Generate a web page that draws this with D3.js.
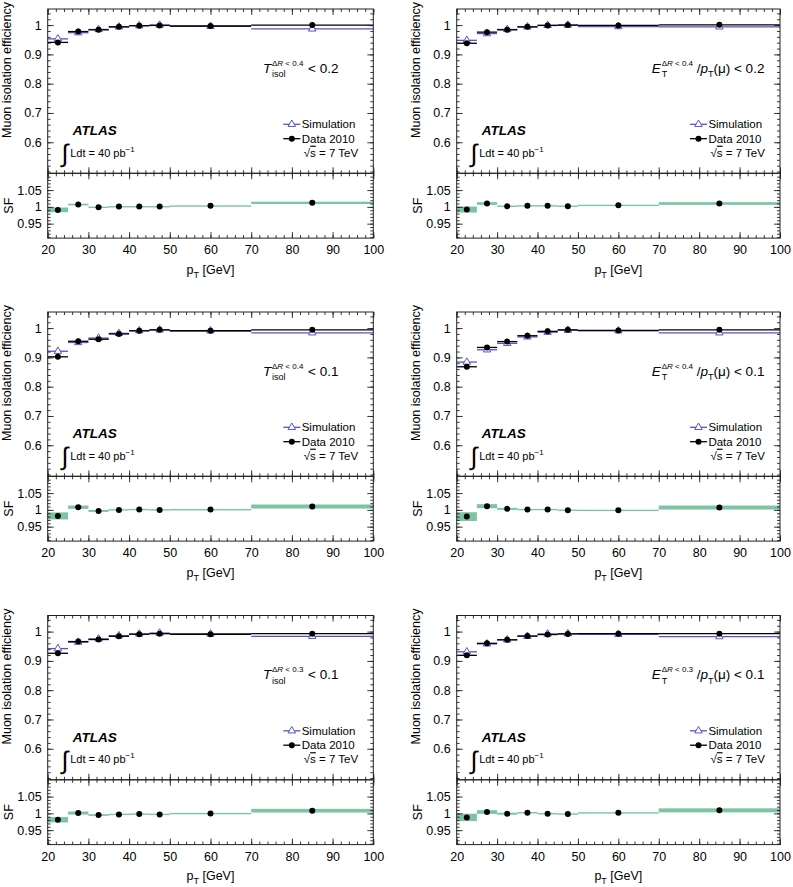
<!DOCTYPE html>
<html>
<head>
<meta charset="utf-8">
<script src="https://cdn.jsdelivr.net/npm/d3@7"></script>
<style>
body { margin: 0; background: #fff; }
svg { display: block; }
</style>
</head>
<body>
<script>
// pT bins (GeV)
var binLow = [20, 25, 30, 35, 40, 45, 50, 70];
var binHigh = [25, 30, 35, 40, 45, 50, 70, 100];
var binCenter = [22.5, 27.5, 32.5, 37.5, 42.5, 47.5, 60, 85];

// T_isol dR<0.4 < 0.2
var effData_a = [0.941, 0.978, 0.984, 0.994, 0.998, 0.999, 0.997, 1.000];
var effSim_a  = [0.953, 0.974, 0.985, 0.994, 0.998, 1.000, 0.996, 0.987];
var sf_a      = [0.991, 1.007, 0.999, 1.001, 1.001, 1.001, 1.003, 1.012];
var sfErr_a   = [0.007, 0.0025, 0.0018, 0.0015, 0.0015, 0.0015, 0.0015, 0.0035];

// E_T dR<0.4 / pT < 0.2
var effData_b = [0.938, 0.976, 0.984, 0.994, 0.999, 1.000, 0.999, 1.001];
var effSim_b  = [0.948, 0.971, 0.985, 0.994, 0.999, 1.000, 0.995, 0.994];
var sf_b      = [0.992, 1.010, 1.002, 1.003, 1.003, 1.002, 1.005, 1.010];
var sfErr_b   = [0.009, 0.004, 0.002, 0.002, 0.002, 0.002, 0.0015, 0.004];

// T_isol dR<0.4 < 0.1
var effData_c = [0.902, 0.955, 0.962, 0.980, 0.991, 0.994, 0.991, 0.994];
var effSim_c  = [0.921, 0.951, 0.966, 0.982, 0.991, 0.994, 0.991, 0.984];
var sf_c      = [0.982, 1.008, 0.997, 1.000, 1.001, 1.000, 1.001, 1.010];
var sfErr_c   = [0.0105, 0.005, 0.003, 0.002, 0.002, 0.002, 0.0015, 0.006];

// E_T dR<0.4 / pT < 0.1
var effData_d = [0.868, 0.934, 0.954, 0.974, 0.989, 0.994, 0.992, 0.994];
var effSim_d  = [0.884, 0.926, 0.948, 0.970, 0.986, 0.993, 0.991, 0.984];
var sf_d      = [0.980, 1.011, 1.003, 1.001, 1.001, 0.999, 0.999, 1.007];
var sfErr_d   = [0.013, 0.006, 0.003, 0.002, 0.002, 0.002, 0.0015, 0.006];

// T_isol dR<0.3 < 0.1
var effData_e = [0.926, 0.966, 0.973, 0.984, 0.991, 0.993, 0.991, 0.993];
var effSim_e  = [0.942, 0.964, 0.975, 0.986, 0.992, 0.995, 0.992, 0.984];
var sf_e      = [0.981, 1.001, 0.995, 0.997, 0.998, 0.997, 1.000, 1.008];
var sfErr_e   = [0.008, 0.0045, 0.0025, 0.002, 0.002, 0.002, 0.0015, 0.0055];

// E_T dR<0.3 / pT < 0.1
var effData_f = [0.919, 0.960, 0.972, 0.985, 0.990, 0.992, 0.993, 0.993];
var effSim_f  = [0.931, 0.958, 0.972, 0.984, 0.992, 0.993, 0.991, 0.983];
var sf_f      = [0.988, 1.004, 0.999, 1.002, 0.999, 0.998, 1.002, 1.009];
var sfErr_f   = [0.011, 0.0055, 0.003, 0.002, 0.002, 0.002, 0.0015, 0.006];

// axis ticks
var xMajor = [20, 30, 40, 50, 60, 70, 80, 90, 100];
var effMajor = [0.6, 0.7, 0.8, 0.9, 1];
var sfMajor = [0.95, 1, 1.05];

var FONT = '"Liberation Sans", Arial, Helvetica, sans-serif';
var SIM_COLOR = "#5555c8";
var BAND_COLOR = "#7cc4a2";

var W = 793, H = 887;
var colLeft = [47.7, 456.7], colWidth = [325.6, 323.3];
var rowTop = [9, 312, 615.5];
var upperH = 164.3, lowerH = 64.8;

var panels = [
  {col: 0, row: 0, data: effData_a, sim: effSim_a, sf: sf_a, err: sfErr_a, v: "T", cone: "0.4", cut: "0.2"},
  {col: 1, row: 0, data: effData_b, sim: effSim_b, sf: sf_b, err: sfErr_b, v: "E", cone: "0.4", cut: "0.2"},
  {col: 0, row: 1, data: effData_c, sim: effSim_c, sf: sf_c, err: sfErr_c, v: "T", cone: "0.4", cut: "0.1"},
  {col: 1, row: 1, data: effData_d, sim: effSim_d, sf: sf_d, err: sfErr_d, v: "E", cone: "0.4", cut: "0.1"},
  {col: 0, row: 2, data: effData_e, sim: effSim_e, sf: sf_e, err: sfErr_e, v: "T", cone: "0.3", cut: "0.1"},
  {col: 1, row: 2, data: effData_f, sim: effSim_f, sf: sf_f, err: sfErr_f, v: "E", cone: "0.3", cut: "0.1"}
];

var svg = d3.select("body").append("svg")
    .attr("width", W)
    .attr("height", H)
    .attr("font-family", FONT);

function range100(a, b, step) {
  // avoid float drift for tick positions
  return d3.range(a, b + step / 2, step).map(function(v) { return v / 100; });
}

function addAxis(g, axisGen, scale, majors, minors, labels, transform) {
  var gMin = g.append("g").attr("transform", transform)
      .call(axisGen(scale).tickValues(minors).tickSizeInner(-3).tickSizeOuter(0).tickFormat(""));
  var gMaj = g.append("g").attr("transform", transform)
      .call(axisGen(scale).tickValues(majors).tickSizeInner(-6).tickSizeOuter(0)
        .tickPadding(axisGen === d3.axisBottom ? 7.4 : 6)
        .tickFormat(labels ? function(d) { return String(d); } : ""));
  [gMin, gMaj].forEach(function(a) {
    a.attr("font-family", FONT).attr("font-size", 12.5);
    a.select(".domain").remove();
    a.selectAll("line").attr("stroke", "#222").attr("stroke-width", 0.9);
    a.selectAll("text").attr("fill", "#000");
  });
}

function isoLabel(g, x, y, p) {
  g.append("text").attr("x", x).attr("y", y).attr("font-size", 13.5)
      .style("font-style", "italic").text(p.v);
  var off = p.v === "T" ? 9 : 10;
  var sup = g.append("text").attr("x", x + off).attr("y", y - 7).attr("font-size", 8);
  sup.append("tspan").text("\u0394");
  sup.append("tspan").style("font-style", "italic").text("R");
  sup.append("tspan").text(" < " + p.cone);
  g.append("text").attr("x", x + off).attr("y", y + 4.5).attr("font-size", 9)
      .text(p.v === "T" ? "isol" : "T");
  var rest = g.append("text").attr("x", x + 45).attr("y", y).attr("font-size", 13.5);
  if (p.v === "E") {
    rest.append("tspan").text("/");
    rest.append("tspan").style("font-style", "italic").text("p");
    rest.append("tspan").attr("font-size", 9).attr("dy", 4.5).text("T");
    rest.append("tspan").attr("dy", -4.5).text("(\u03bc) < " + p.cut);
  } else {
    rest.text("< " + p.cut);
  }
}

panels.forEach(function(p) {
  var left = colLeft[p.col], width = colWidth[p.col];
  var top = rowTop[p.row];
  var g = svg.append("g");

  var x = d3.scaleLinear().domain([20, 100]).range([left, left + width]);
  var yEff = d3.scaleLinear().domain([0.494, 1.055]).range([top + upperH, top]);
  var lowTop = top + upperH;
  var ySf = d3.scaleLinear().domain([0.907, 1.1]).range([lowTop + lowerH, lowTop]);

  var xMinor = d3.range(20, 101, 2);

  // ---- upper pad: efficiency ----
  var bins = d3.range(binCenter.length);

  // simulation
  g.append("g").selectAll("line").data(bins).enter().append("line")
      .attr("x1", function(i) { return x(binLow[i]); })
      .attr("x2", function(i) { return x(binHigh[i]); })
      .attr("y1", function(i) { return yEff(p.sim[i]); })
      .attr("y2", function(i) { return yEff(p.sim[i]); })
      .attr("stroke", SIM_COLOR).attr("stroke-width", 1.3);
  g.append("g").selectAll("path").data(bins).enter().append("path")
      .attr("d", d3.symbol(d3.symbolTriangle, 24))
      .attr("transform", function(i) { return "translate(" + x(binCenter[i]) + "," + yEff(p.sim[i]) + ")"; })
      .attr("fill", "#fff").attr("stroke", SIM_COLOR).attr("stroke-width", 1);

  // data
  g.append("g").selectAll("line").data(bins).enter().append("line")
      .attr("x1", function(i) { return x(binLow[i]); })
      .attr("x2", function(i) { return x(binHigh[i]); })
      .attr("y1", function(i) { return yEff(p.data[i]); })
      .attr("y2", function(i) { return yEff(p.data[i]); })
      .attr("stroke", "#000").attr("stroke-width", 1.3);
  g.append("g").selectAll("circle").data(bins).enter().append("circle")
      .attr("cx", function(i) { return x(binCenter[i]); })
      .attr("cy", function(i) { return yEff(p.data[i]); })
      .attr("r", 3).attr("fill", "#000");

  // ---- lower pad: scale factor ----
  g.append("g").selectAll("rect").data(bins).enter().append("rect")
      .attr("x", function(i) { return x(binLow[i]); })
      .attr("width", function(i) { return x(binHigh[i]) - x(binLow[i]); })
      .attr("y", function(i) { return ySf(p.sf[i] + p.err[i]); })
      .attr("height", function(i) { return Math.max(1.4, ySf(p.sf[i] - p.err[i]) - ySf(p.sf[i] + p.err[i])); })
      .attr("fill", BAND_COLOR);
  g.append("g").selectAll("circle").data(bins).enter().append("circle")
      .attr("cx", function(i) { return x(binCenter[i]); })
      .attr("cy", function(i) { return ySf(p.sf[i]); })
      .attr("r", 3).attr("fill", "#000");

  // frames
  g.append("rect").attr("x", left).attr("y", top).attr("width", width).attr("height", upperH)
      .attr("fill", "none").attr("stroke", "#222").attr("stroke-width", 1);
  g.append("rect").attr("x", left).attr("y", lowTop).attr("width", width).attr("height", lowerH)
      .attr("fill", "none").attr("stroke", "#222").attr("stroke-width", 1);

  // axes upper
  addAxis(g, d3.axisLeft, yEff, effMajor, range100(50, 104, 2), true, "translate(" + left + ",0)");
  addAxis(g, d3.axisRight, yEff, effMajor, range100(50, 104, 2), false, "translate(" + (left + width) + ",0)");
  addAxis(g, d3.axisTop, x, xMajor, xMinor, false, "translate(0," + top + ")");
  addAxis(g, d3.axisBottom, x, xMajor, xMinor, false, "translate(0," + lowTop + ")");
  // axes lower
  addAxis(g, d3.axisLeft, ySf, sfMajor, range100(91, 109, 1), true, "translate(" + left + ",0)");
  addAxis(g, d3.axisRight, ySf, sfMajor, range100(91, 109, 1), false, "translate(" + (left + width) + ",0)");
  addAxis(g, d3.axisTop, x, xMajor, xMinor, false, "translate(0," + lowTop + ")");
  addAxis(g, d3.axisBottom, x, xMajor, xMinor, true, "translate(0," + (lowTop + lowerH) + ")");

  // axis titles
  g.append("text")
      .attr("transform", "translate(" + (left - 36.5) + "," + (top - 7) + ") rotate(-90)")
      .attr("text-anchor", "end").attr("font-size", 12.5)
      .text("Muon isolation efficiency");
  g.append("text")
      .attr("transform", "translate(" + (left - 35) + "," + (lowTop + lowerH / 2) + ") rotate(-90)")
      .attr("text-anchor", "middle").attr("font-size", 12.5)
      .text("SF");
  var xt = g.append("text").attr("x", left + width / 2).attr("y", lowTop + lowerH + 35.5)
      .attr("text-anchor", "middle").attr("font-size", 12.5);
  xt.append("tspan").text("p");
  xt.append("tspan").attr("font-size", 9).attr("dy", 4).text("T");
  xt.append("tspan").attr("dy", -4).text(" [GeV]");

  // isolation cut label
  isoLabel(g, left + (p.col === 0 ? 215.3 : 195), top + 63.8, p);

  // ATLAS + lumi
  g.append("text").attr("x", left + 25).attr("y", top + 126)
      .attr("font-size", 13.5).attr("font-weight", "bold").style("font-style", "italic")
      .text("ATLAS");
  g.append("text").attr("x", left + 14).attr("y", top + 153)
      .attr("font-size", 25).text("\u222b");
  var lumi = g.append("text").attr("x", left + 22.5).attr("y", top + 147.7).attr("font-size", 11);
  lumi.append("tspan").text("Ldt = 40 pb");
  lumi.append("tspan").attr("font-size", 8).attr("dy", -5).text("\u22121");

  // legend
  var right = left + width;
  var legY = [top + 119.3, top + 133.7];
  g.append("line").attr("x1", right - 90).attr("x2", right - 73)
      .attr("y1", legY[0] - 4).attr("y2", legY[0] - 4)
      .attr("stroke", SIM_COLOR).attr("stroke-width", 1.3);
  g.append("path").attr("d", d3.symbol(d3.symbolTriangle, 24))
      .attr("transform", "translate(" + (right - 81.5) + "," + (legY[0] - 4) + ")")
      .attr("fill", "#fff").attr("stroke", SIM_COLOR).attr("stroke-width", 1);
  g.append("text").attr("x", right - 71.6).attr("y", legY[0]).attr("font-size", 11.5).text("Simulation");
  g.append("line").attr("x1", right - 90).attr("x2", right - 73)
      .attr("y1", legY[1] - 4).attr("y2", legY[1] - 4)
      .attr("stroke", "#000").attr("stroke-width", 1.3);
  g.append("circle").attr("cx", right - 81.5).attr("cy", legY[1] - 4).attr("r", 3).attr("fill", "#000");
  g.append("text").attr("x", right - 71.6).attr("y", legY[1]).attr("font-size", 11.5).text("Data 2010");
  var rs = g.append("text").attr("x", right - 69.5).attr("y", top + 147.7).attr("font-size", 11.5);
  rs.append("tspan").text("\u221a");
  rs.append("tspan").style("text-decoration", "overline").text("s");
  rs.append("tspan").text(" = 7 TeV");
});
</script>
</body>
</html>
